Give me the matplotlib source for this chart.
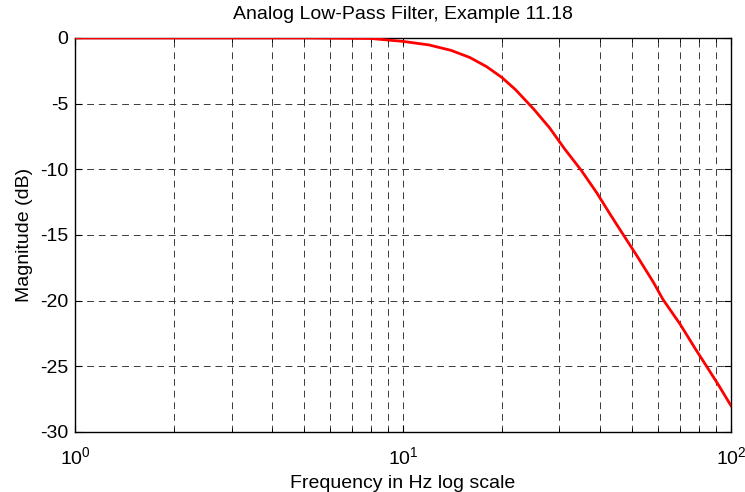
import matplotlib
matplotlib.use("Agg")
import matplotlib.pyplot as plt
from matplotlib.ticker import LogLocator, NullFormatter

plt.rcParams['font.family'] = ['Liberation Sans', 'DejaVu Sans']

freq_hz = [1, 5, 8, 10, 12, 14, 16, 18, 20, 22, 25, 28, 31, 35, 39, 43, 47,
           52, 58, 62, 70, 78, 85, 92, 100]
mag_db = [0.0, 0.0, -0.04, -0.26, -0.53, -0.94, -1.49, -2.19, -3.0, -3.92,
          -5.4, -6.85, -8.4, -10.1, -11.8, -13.5, -15.0, -16.7, -18.6, -19.9,
          -21.8, -23.7, -25.15, -26.5, -28.0]
title = "Analog Low-Pass Filter, Example 11.18"
xlabel = "Frequency in Hz log scale"
ylabel = "Magnitude (dB)"
yticks = [0, -5, -10, -15, -20, -25, -30]

fig = plt.figure(figsize=(7.45, 4.92), dpi=100)
ax = fig.add_axes([0.1007, 0.122, 0.8805, 0.8008])
ax.plot(freq_hz, mag_db, color='#ff0000', linewidth=2.0, zorder=3)
ax.set_xscale('log')
ax.set_xlim(1, 100)
ax.set_ylim(-30, 0)
ax.set_yticks(yticks)
ax.set_yticklabels([str(t) for t in yticks])
ax.xaxis.set_major_locator(LogLocator(base=10, numticks=10))
ax.xaxis.set_minor_locator(LogLocator(base=10, subs=range(2, 10), numticks=20))
ax.xaxis.set_minor_formatter(NullFormatter())

grid_kw = dict(color='#3a3a3a', linestyle=(0, (7, 5)), linewidth=0.7)
ax.grid(True, which='major', axis='both', **grid_kw)
ax.grid(True, which='minor', axis='x', **grid_kw)

ax.tick_params(which='both', direction='in', top=True, right=True,
               labelsize=14, colors='black')
ax.tick_params(which='major', length=5)
ax.tick_params(which='minor', length=3)
ax.tick_params(axis='x', pad=10)
ax.tick_params(axis='y', pad=5)
for s in ax.spines.values():
    s.set_linewidth(1.0)
    s.set_color('black')

ax.set_title(title, fontsize=14, pad=14)
ax.set_xlabel(xlabel, fontsize=14, labelpad=5)
ax.set_ylabel(ylabel, fontsize=14, labelpad=5)

fig.savefig("out.png", dpi=100)
